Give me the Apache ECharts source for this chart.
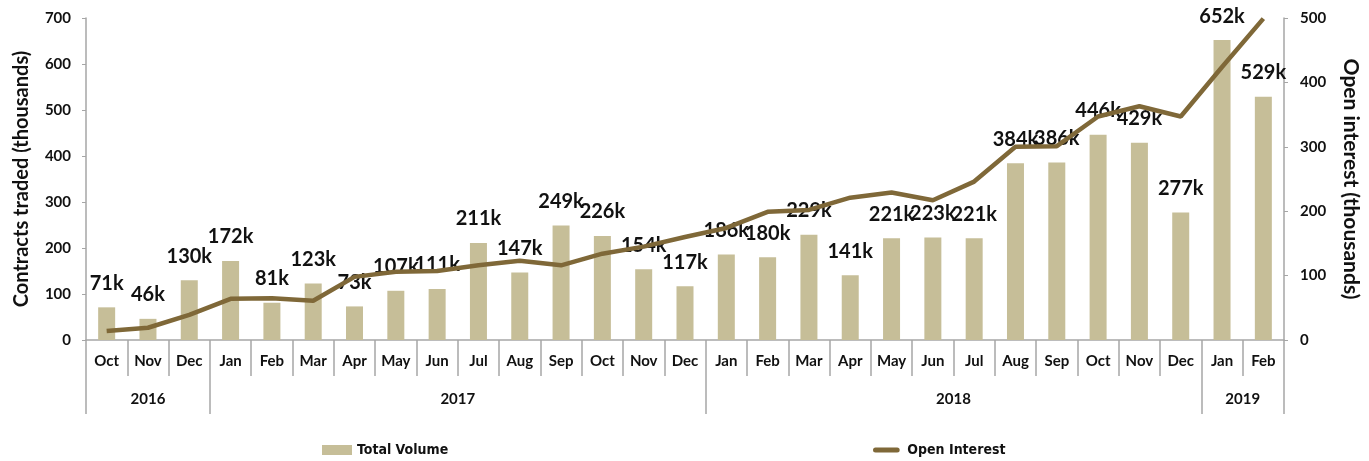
<!DOCTYPE html>
<html>
<head>
<meta charset="utf-8">
<script src="https://cdn.jsdelivr.net/npm/echarts@6/dist/echarts.min.js"></script>
<style>html,body{margin:0;padding:0;background:#fff}#c{width:1369px;height:461px}</style>
</head>
<body>
<div id="c"></div>
<script>
const months = ['Oct','Nov','Dec','Jan','Feb','Mar','Apr','May','Jun','Jul','Aug','Sep','Oct','Nov','Dec','Jan','Feb','Mar','Apr','May','Jun','Jul','Aug','Sep','Oct','Nov','Dec','Jan','Feb'];
const years = ['2016','2017','2018','2019'];
const yearMonthCounts = [3, 12, 12, 2];
const totalVolume = [71,46,130,172,81,123,73,107,111,211,147,249,226,154,117,186,180,229,141,221,223,221,384,386,446,429,277,652,529];
const openInterest = [14,19,39,64,65,61,98,106,107,116,123,116,134,145,160,174,199,202,221,229,217,246,300,301,347,363,347,424,499];
const leftTicks = [0,100,200,300,400,500,600,700];
const rightTicks = [0,100,200,300,400,500];

// Build year axis on a half-month point grid (boundaryGap false)
const n = months.length;
const halfCount = n * 2 + 1;
const yearData = new Array(halfCount).fill('');
const yearLabelIdx = new Set();
const yearTickIdx = new Set([0]);
let start = 0;
years.forEach((y, i) => {
  const end = start + yearMonthCounts[i];
  const mid = start + end;
  yearData[mid] = y;
  yearLabelIdx.add(mid);
  yearTickIdx.add(end * 2);
  start = end;
});

const chart = echarts.init(document.getElementById('c'));
const axisColor = '#a6a6a6';
const font = 'Lato, "Open Sans", sans-serif';
const legendText = { fontFamily: '"Liberation Sans Narrow", "DejaVu Sans Condensed", Lato, sans-serif', fontSize: 14, fontWeight: 'bold', color: '#111' };
chart.setOption({
  animation: false,
  textStyle: { fontFamily: font },
  grid: { left: 86, right: 77, top: 18, bottom: 121 },
  legend: [
    { top: 443, left: 322, padding: 0, itemWidth: 30, itemHeight: 10, itemGap: 5, textStyle: legendText,
      data: [{ name: 'Total Volume', icon: 'rect' }] },
    { top: 443, left: 873, padding: 0, itemWidth: 32, itemHeight: 5, textStyle: legendText,
      data: [{ name: 'Open Interest', icon: 'path://M3,0 L29,0 A3,3 0 0 1 29,6 L3,6 A3,3 0 0 1 3,0 Z' }] }
  ],
  xAxis: [
    {
      type: 'category', data: months, position: 'bottom',
      axisLine: { lineStyle: { color: axisColor, width: 1.5 } },
      axisTick: { show: true, interval: 0, length: 36, lineStyle: { color: axisColor, width: 1.5 } },
      axisLabel: { interval: 0, margin: 14, fontSize: 15, fontWeight: 'bold', color: '#111', fontFamily: font }
    },
    {
      type: 'category', data: yearData, position: 'bottom', boundaryGap: false,
      axisLine: { show: false },
      axisTick: { show: true, length: 74, interval: (i) => yearTickIdx.has(i), lineStyle: { color: axisColor, width: 1.5 } },
      axisLabel: { interval: (i) => yearLabelIdx.has(i), margin: 52, fontSize: 15, fontWeight: 'bold', color: '#111', fontFamily: font }
    }
  ],
  yAxis: [
    {
      type: 'value', min: leftTicks[0], max: leftTicks[leftTicks.length-1], interval: 100,
      name: 'Contracts traded (thousands)', nameLocation: 'middle', nameGap: 54, nameRotate: 90,
      nameTextStyle: { fontSize: 20, fontWeight: 'bold', color: '#111', fontFamily: font },
      axisLine: { show: true, lineStyle: { color: axisColor, width: 1.5 } },
      axisTick: { show: true, length: 4, lineStyle: { color: axisColor } },
      splitLine: { show: false },
      axisLabel: { margin: 15, fontSize: 15, fontWeight: 'bold', color: '#111', fontFamily: font }
    },
    {
      type: 'value', min: rightTicks[0], max: rightTicks[rightTicks.length-1], interval: 100,
      name: 'Open interest (thousands)', nameLocation: 'middle', nameGap: 56, nameRotate: -90,
      nameTextStyle: { fontSize: 21, fontWeight: 'bold', color: '#111', fontFamily: font },
      axisLine: { show: true, lineStyle: { color: axisColor, width: 1.5 } },
      axisTick: { show: true, length: 4, lineStyle: { color: axisColor } },
      splitLine: { show: false },
      axisLabel: { margin: 16, fontSize: 15, fontWeight: 'bold', color: '#111', fontFamily: font }
    }
  ],
  series: [
    {
      name: 'Total Volume', type: 'bar', data: totalVolume, barWidth: 17,
      itemStyle: { color: '#c6be98' },
      label: { show: true, position: 'top', distance: 14, formatter: '{c}k', fontSize: 20, fontWeight: 'bold', color: '#111', fontFamily: font }
    },
    {
      name: 'Open Interest', type: 'line', yAxisIndex: 1, data: openInterest,
      symbol: 'none', lineStyle: { color: '#7f6838', width: 4.5 }, itemStyle: { color: '#7f6838' }, z: 3
    }
  ]
});
</script>
</body>
</html>
